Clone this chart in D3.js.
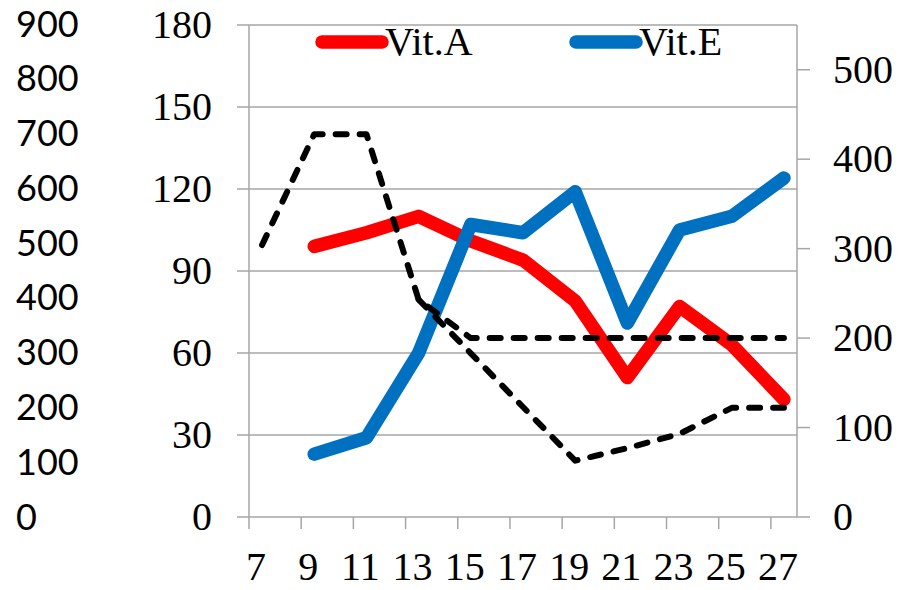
<!DOCTYPE html>
<html>
<head>
<meta charset="utf-8">
<script src="https://d3js.org/d3.v7.min.js"></script>
<style>
  body { margin: 0; background: #fff; }
  svg text { font-family: "Liberation Serif", "Times New Roman", serif; fill: #000; }
</style>
</head>
<body>
<svg id="chart" width="904" height="590"></svg>
<script>
  // categories on the x axis (days)
  var days = [7,8,9,10,11,12,13,14,15,16,17,18,19,20,21,22,23,24,25,26,27];
  var labelDays = [7,9,11,13,15,17,19,21,23,25,27];

  // left axis series
  var vitDays = [9,11,13,15,17,19,21,23,25,27];
  var vitA = [99,104,110,101,94,79,51,77,63,43];
  var vitE = [23,29,60,107,104,119,71,105,110,124];

  // right axis dashed series
  var dashADays = [7,9,11,13,15,17,19,21,23,25,27];
  var dashA = [304,428,428,243,200,200,200,200,200,200,200];
  var dashBDays = [13,15,17,19,21,23,25,27];
  var dashB = [243,183,123,63,77,93,122,122];

  var leftTicks = [0,30,60,90,120,150,180];
  var rightTicks = [0,100,200,300,400,500];
  var outerTicks = [0,100,200,300,400,500,600,700,800,900];

  var margin = {top: 25, right: 107, bottom: 73, left: 249};
  var width = 904, height = 590;
  var x0 = margin.left, x1 = width - margin.right;
  var y0 = height - margin.bottom, y1 = margin.top;

  var svg = d3.select("#chart");

  var x = d3.scaleBand().domain(days).range([x0, x1]).padding(0);
  var cx = function (d) { return x(d) + x.bandwidth() / 2; };
  var yL = d3.scaleLinear().domain([0, 180]).range([y0, y1]);
  var yR = d3.scaleLinear().domain([0, 550]).range([y0, y1]);
  var yO = d3.scaleLinear().domain([0, 900]).range([y0, y1 - 1]);

  var grey = "#a6a6a6";

  // gridlines (left axis)
  svg.append("g")
    .selectAll("line")
    .data(leftTicks)
    .join("line")
    .attr("x1", x0 - 12)
    .attr("x2", x1)
    .attr("y1", d => yL(d))
    .attr("y2", d => yL(d))
    .attr("stroke", grey)
    .attr("stroke-width", 1.5);

  // left axis line
  svg.append("line")
    .attr("x1", x0).attr("x2", x0)
    .attr("y1", y1).attr("y2", y0 + 12)
    .attr("stroke", grey).attr("stroke-width", 1.5);

  // right axis line + ticks
  svg.append("line")
    .attr("x1", x1).attr("x2", x1)
    .attr("y1", y1).attr("y2", y0)
    .attr("stroke", grey).attr("stroke-width", 1.5);
  svg.append("g")
    .selectAll("line")
    .data(rightTicks)
    .join("line")
    .attr("x1", x1).attr("x2", x1 + 13)
    .attr("y1", d => yR(d)).attr("y2", d => yR(d))
    .attr("stroke", grey).attr("stroke-width", 1.5);

  // x axis ticks
  svg.append("g")
    .selectAll("line")
    .data(labelDays.slice(1))
    .join("line")
    .attr("x1", d => x(d)).attr("x2", d => x(d))
    .attr("y1", y0).attr("y2", y0 + 12)
    .attr("stroke", grey).attr("stroke-width", 1.5);

  // left axis labels
  svg.append("g")
    .selectAll("text")
    .data(leftTicks)
    .join("text")
    .attr("x", 212)
    .attr("y", d => yL(d))
    .attr("dy", "0.33em")
    .attr("text-anchor", "end")
    .style("font-size", "40px")
    .text(d => d);

  // right axis labels
  svg.append("g")
    .selectAll("text")
    .data(rightTicks)
    .join("text")
    .attr("x", 833)
    .attr("y", d => yR(d))
    .attr("dy", "0.33em")
    .attr("text-anchor", "start")
    .style("font-size", "40px")
    .text(d => d);

  // outer left labels
  svg.append("g")
    .selectAll("text")
    .data(outerTicks)
    .join("text")
    .attr("x", 16)
    .attr("y", d => yO(d))
    .attr("dy", "0.35em")
    .attr("text-anchor", "start")
    .style("font-family", "Lato, 'Open Sans', sans-serif")
    .style("font-size", "36px")
    .text(d => d);

  // x labels
  svg.append("g")
    .selectAll("text")
    .data(labelDays)
    .join("text")
    .attr("x", d => x(d) + 7)
    .attr("y", 580)
    .attr("text-anchor", "middle")
    .style("font-size", "40px")
    .text(d => d);

  var line = function (xs, ys, yScale) {
    return d3.line()
      .x((d, i) => cx(xs[i]))
      .y(d => yScale(d))(ys);
  };

  svg.append("path")
    .attr("d", line(vitDays, vitA, yL))
    .attr("fill", "none").attr("stroke", "#ff0000")
    .attr("stroke-width", 13.5)
    .attr("stroke-linejoin", "round").attr("stroke-linecap", "round");

  svg.append("path")
    .attr("d", line(vitDays, vitE, yL))
    .attr("fill", "none").attr("stroke", "#0070c0")
    .attr("stroke-width", 13.5)
    .attr("stroke-linejoin", "round").attr("stroke-linecap", "round");

  [[dashADays, dashA], [dashBDays, dashB]].forEach(function (s) {
    svg.append("path")
      .attr("d", line(s[0], s[1], yR))
      .attr("fill", "none").attr("stroke", "#000")
      .attr("stroke-width", 6)
      .attr("stroke-dasharray", "11,13")
      .attr("stroke-linejoin", "round").attr("stroke-linecap", "round");
  });

  // legend
  var legend = [
    {name: "Vit.A", color: "#ff0000", x: 322},
    {name: "Vit.E", color: "#0070c0", x: 576}
  ];
  var lg = svg.append("g")
    .selectAll("g")
    .data(legend)
    .join("g")
    .attr("transform", d => `translate(${d.x},42)`);
  lg.append("line")
    .attr("x1", 0).attr("x2", 60)
    .attr("stroke", d => d.color)
    .attr("stroke-width", 13.5)
    .attr("stroke-linecap", "round");
  lg.append("text")
    .attr("x", 63)
    .attr("y", 13)
    .style("font-size", "40px")
    .text(d => d.name);
</script>
</body>
</html>
